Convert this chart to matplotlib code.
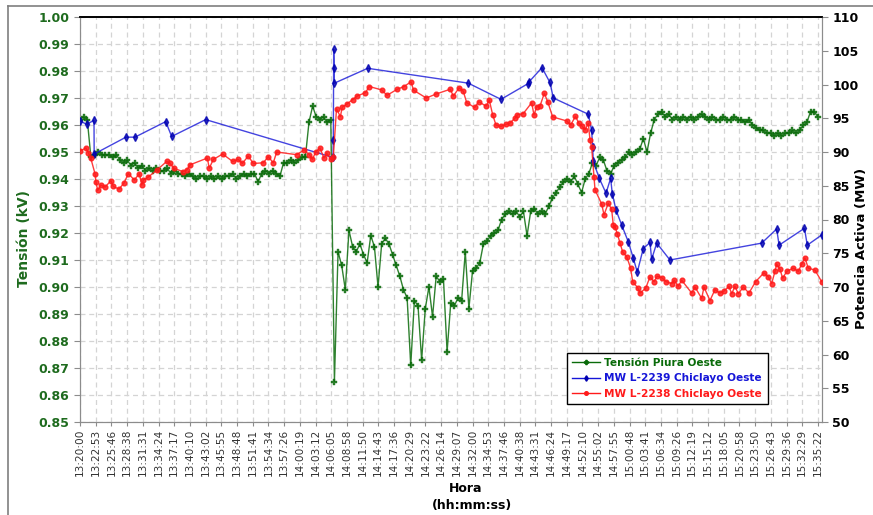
import matplotlib
matplotlib.use("Agg")
import matplotlib.pyplot as plt
from matplotlib.lines import Line2D

# --- data -------------------------------------------------------------------
START = "13:20:00"

X_TICK_LABELS = [
    "13:20:00", "13:22:53", "13:25:46", "13:28:38", "13:31:31", "13:34:24",
    "13:37:17", "13:40:10", "13:43:02", "13:45:55", "13:48:48", "13:51:41",
    "13:54:34", "13:57:26", "14:00:19", "14:03:12", "14:06:05", "14:08:58",
    "14:11:50", "14:14:43", "14:17:36", "14:20:29", "14:23:22", "14:26:14",
    "14:29:07", "14:32:00", "14:34:53", "14:37:46", "14:40:38", "14:43:31",
    "14:46:24", "14:49:17", "14:52:10", "14:55:02", "14:57:55", "15:00:48",
    "15:03:41", "15:06:34", "15:09:26", "15:12:19", "15:15:12", "15:18:05",
    "15:20:58", "15:23:50", "15:26:43", "15:29:36", "15:32:29", "15:35:22",
]

# Tension Piura Oeste (kV pu), one reading every 40 s from 13:20:00
GREEN_STEP_S = 40
tension_piura = [
    0.962, 0.963, 0.962, 0.948, 0.949, 0.950, 0.949, 0.949, 0.949, 0.948,
    0.949, 0.947, 0.946, 0.947, 0.945, 0.946, 0.944, 0.945, 0.943, 0.944,
    0.943, 0.944, 0.943, 0.943, 0.944, 0.942, 0.943, 0.942, 0.942, 0.941,
    0.942, 0.941, 0.940, 0.941, 0.941, 0.940, 0.941, 0.940, 0.941, 0.940,
    0.941, 0.941, 0.942, 0.940, 0.941, 0.942, 0.941, 0.942, 0.942, 0.939,
    0.942, 0.943, 0.942, 0.943, 0.942, 0.941, 0.946, 0.946, 0.947, 0.946,
    0.947, 0.948, 0.948, 0.961, 0.967, 0.963, 0.962, 0.963, 0.961, 0.962,
    0.865, 0.913, 0.908, 0.899, 0.921, 0.915, 0.913, 0.916, 0.912, 0.909,
    0.919, 0.915, 0.900, 0.916, 0.918, 0.916, 0.912, 0.908, 0.904, 0.899,
    0.896, 0.871, 0.895, 0.893, 0.873, 0.892, 0.900, 0.889, 0.904, 0.902,
    0.903, 0.876, 0.894, 0.893, 0.896, 0.895, 0.913, 0.892, 0.906, 0.907,
    0.909, 0.916, 0.917, 0.919, 0.920, 0.921, 0.925, 0.927, 0.928, 0.927,
    0.928, 0.926, 0.928, 0.919, 0.928, 0.929, 0.927, 0.928, 0.927, 0.930,
    0.933, 0.935, 0.937, 0.939, 0.940, 0.939, 0.941, 0.938, 0.935, 0.940,
    0.942, 0.946, 0.945, 0.948, 0.947, 0.943, 0.942, 0.945, 0.946, 0.947,
    0.948, 0.950, 0.949, 0.950, 0.951, 0.955, 0.950, 0.957, 0.962, 0.964,
    0.965, 0.963, 0.964, 0.962, 0.963, 0.962, 0.963, 0.962, 0.963, 0.962,
    0.963, 0.964, 0.963, 0.962, 0.963, 0.962, 0.962, 0.963, 0.962, 0.962,
    0.963, 0.962, 0.962, 0.961, 0.962, 0.960, 0.959, 0.958, 0.958, 0.957,
    0.957, 0.956, 0.957, 0.956, 0.957, 0.957, 0.958, 0.957, 0.958, 0.960,
    0.961, 0.965, 0.965, 0.963,
]

mw_l2239_time = [
    "13:20:00", "13:21:14", "13:22:34", "13:22:36", "13:28:26", "13:30:05",
    "13:35:43", "13:36:49", "13:43:03", "14:06:24", "14:06:28", "14:06:32",
    "14:06:36", "14:06:40", "14:12:46", "14:31:13", "14:37:13", "14:42:07",
    "14:42:16", "14:44:44", "14:46:12", "14:46:49", "14:53:14", "14:53:51",
    "14:54:02", "14:54:09", "14:55:15", "14:56:29", "14:57:20", "14:57:38",
    "14:58:19", "14:59:21", "15:00:34", "15:01:29", "15:02:13", "15:03:19",
    "15:04:33", "15:04:51", "15:05:47", "15:08:13", "15:25:02", "15:27:47",
    "15:28:14", "15:32:53", "15:33:24", "15:36:02",
]
mw_l2239 = [
    94.6, 94.1, 94.7, 89.7, 92.2, 92.2, 94.5, 92.3, 94.8, 89.2, 91.8, 105.2,
    102.5, 100.2, 102.4, 100.2, 97.8, 100.1, 100.3, 102.5, 100.3, 98.0, 95.6,
    93.2, 90.7, 88.6, 86.1, 83.9, 86.1, 83.8, 81.4, 79.2, 76.7, 74.3, 72.2,
    75.7, 76.6, 74.1, 76.5, 74.0, 76.5, 78.6, 76.2, 78.7, 76.2, 77.7,
]

mw_l2238_time = [
    "13:20:00", "13:21:06", "13:21:31", "13:21:58", "13:22:45", "13:22:56",
    "13:23:15", "13:23:48", "13:24:35", "13:25:41", "13:26:06", "13:27:09",
    "13:28:04", "13:28:52", "13:29:58", "13:30:53", "13:31:19", "13:31:37",
    "13:32:32", "13:34:04", "13:35:54", "13:36:30", "13:37:14", "13:38:50",
    "13:39:34", "13:40:11", "13:43:21", "13:43:43", "13:44:27", "13:46:10",
    "13:48:00", "13:49:02", "13:49:46", "13:50:52", "13:51:47", "13:53:37",
    "13:54:32", "13:55:27", "13:56:05", "13:59:45", "14:01:05", "14:02:04",
    "14:02:37", "14:03:14", "14:04:01", "14:04:45", "14:05:15", "14:05:59",
    "14:06:28", "14:07:03", "14:07:45", "14:08:07", "14:09:02", "14:09:59",
    "14:10:52", "14:12:22", "14:13:04", "14:15:20", "14:16:19", "14:18:12",
    "14:19:26", "14:20:43", "14:21:11", "14:23:31", "14:25:21", "14:27:55",
    "14:28:28", "14:29:33", "14:30:18", "14:30:56", "14:32:24", "14:33:09",
    "14:34:28", "14:35:04", "14:35:42", "14:36:18", "14:37:13", "14:38:08",
    "14:38:52", "14:39:47", "14:40:13", "14:41:19", "14:42:51", "14:43:16",
    "14:43:46", "14:44:22", "14:45:10", "14:45:47", "14:46:42", "14:49:16",
    "14:50:00", "14:50:53", "14:51:28", "14:52:01", "14:52:38", "14:53:14",
    "14:53:33", "14:53:51", "14:54:17", "14:54:28", "14:55:41", "14:56:07",
    "14:56:54", "14:57:31", "14:57:49", "14:58:08", "14:58:33", "14:59:03",
    "14:59:32", "15:00:16", "15:01:00", "15:01:22", "15:02:17", "15:02:43",
    "15:03:45", "15:04:33", "15:05:17", "15:05:53", "15:06:42", "15:07:29",
    "15:08:32", "15:09:00", "15:09:44", "15:10:22", "15:12:12", "15:12:48",
    "15:14:02", "15:14:27", "15:15:33", "15:16:28", "15:17:23", "15:18:07",
    "15:19:02", "15:19:32", "15:20:08", "15:20:45", "15:21:40", "15:22:42",
    "15:23:56", "15:25:27", "15:26:15", "15:26:52", "15:27:28", "15:27:47",
    "15:28:24", "15:28:53", "15:29:37", "15:30:50", "15:31:45", "15:32:22",
    "15:32:58", "15:33:35", "15:34:49", "15:36:02",
]
mw_l2238 = [
    90.15, 90.6, 89.9, 89.1, 86.8, 85.5, 84.3, 85.1, 84.8, 85.75, 84.9, 84.5,
    85.4, 86.8, 85.85, 86.8, 85.1, 85.85, 86.3, 87.3, 88.6, 88.3, 87.6, 87.1,
    87.3, 88.1, 89.1, 87.6, 88.9, 89.7, 88.6, 88.9, 88.3, 89.4, 88.3, 88.4,
    89.3, 88.4, 90.0, 89.6, 90.3, 89.6, 88.9, 90.0, 90.6, 89.1, 89.8, 88.9,
    89.3, 96.4, 95.25, 96.65, 97.15, 97.75, 98.3, 98.8, 99.7, 99.2, 98.4, 99.3,
    99.7, 100.4, 99.15, 98.0, 98.6, 99.3, 98.3, 99.5, 99.0, 97.3, 96.6, 97.45,
    96.8, 97.7, 95.5, 94.0, 93.8, 94.1, 94.3, 95.0, 95.5, 95.7, 97.3, 95.5,
    96.7, 96.8, 98.7, 97.45, 95.2, 94.6, 94.0, 95.3, 94.3, 93.9, 93.3, 94.25,
    91.8, 90.7, 86.3, 84.4, 82.3, 80.7, 82.4, 81.5, 79.2, 78.9, 77.9, 76.5,
    75.2, 74.5, 72.8, 70.8, 69.9, 69.1, 69.8, 71.5, 70.8, 71.6, 71.4, 70.8,
    70.5, 71.0, 70.1, 71.0, 69.1, 70.0, 68.3, 70.0, 68.0, 69.6, 69.1, 69.4,
    70.1, 69.0, 70.1, 69.0, 70.0, 69.1, 70.8, 72.1, 71.5, 70.5, 72.3, 73.4,
    72.6, 71.3, 72.3, 72.8, 72.3, 73.4, 74.3, 72.8, 72.5, 70.8,
]

GREEN = "#0a6b0a"
BLUE = "#1515d8"
RED = "#ff1a1a"


def secs(hms: str) -> int:
    h, m, s = (int(p) for p in hms.split(":"))
    return h * 3600 + m * 60 + s


t0 = secs(START)
x_ticks = [secs(t) - t0 for t in X_TICK_LABELS]
x_green = [i * GREEN_STEP_S for i in range(len(tension_piura))]
x_blue = [secs(t) - t0 for t in mw_l2239_time]
x_red = [secs(t) - t0 for t in mw_l2238_time]

# --- figure -----------------------------------------------------------------
W, H = 873, 515
fig = plt.figure(figsize=(W / 100, H / 100), dpi=100)
fig.patch.set_facecolor("white")

L, R, T, B = 80, 822, 17, 422
ax = fig.add_axes([L / W, 1 - B / H, (R - L) / W, (B - T) / H])
ax2 = ax.twinx()

ax.plot(x_green, tension_piura, color=GREEN, lw=1.0, alpha=0.85, marker="P",
        ms=5.0, mec=GREEN, mfc=GREEN, mew=0.3, zorder=3)
ax2.plot(x_blue, mw_l2239, color=BLUE, lw=1.0, alpha=0.8, marker="d", ms=3.6,
         mec="#0000b0", mfc="#0000b0", zorder=3)
ax2.plot(x_red, mw_l2238, color=RED, lw=1.0, alpha=0.85, marker="o", ms=3.4,
         mec=RED, mfc=RED, zorder=4)

ax.set_xlim(0, x_ticks[-1] * (R - L) / 738)
ax.set_ylim(0.85, 1.00)
ax2.set_ylim(50, 110)
ax.set_yticks([0.85 + 0.01 * k for k in range(16)])
ax.set_yticklabels([f"{0.85 + 0.01 * k:.2f}" for k in range(16)])
ax2.set_yticks(range(50, 111, 5))
ax.set_xticks(x_ticks)
ax.set_xticklabels(X_TICK_LABELS, rotation=90, fontsize=7.6, color="#333333")

ax.grid(True, color="#d4d4d4", linestyle=(0, (4, 3)), lw=0.9)
ax.set_axisbelow(True)

for a in (ax, ax2):
    for side in ("left", "right", "bottom"):
        a.spines[side].set_color("#8c8c8c")
    a.spines["top"].set_color("black")
    a.spines["top"].set_linewidth(1.2)

ax.tick_params(axis="y", colors="#8c8c8c", labelcolor="#1e6b1e", labelsize=9,
               length=4, direction="out")
ax2.tick_params(axis="y", colors="#8c8c8c", labelcolor="black", labelsize=9,
                length=4, direction="out")
ax.tick_params(axis="x", colors="#8c8c8c", labelcolor="#333333", length=3,
               direction="out", pad=2)
for lab in ax.get_yticklabels() + ax2.get_yticklabels():
    lab.set_fontweight("bold")

fig.text(24 / W, 1 - 239 / H, "Tensión (kV)", rotation=90, ha="center",
         va="center", fontsize=10, fontweight="bold", color="#1e6b1e")
fig.text(862 / W, 1 - 248 / H, "Potencia Activa (MW)", rotation=90,
         ha="center", va="center", fontsize=9.5, fontweight="bold",
         color="black")
fig.text(466 / W, 1 - 488 / H, "Hora", ha="center", va="center", fontsize=9,
         fontweight="bold", color="black")
fig.text(472 / W, 1 - 506 / H, "(hh:mm:ss)", ha="center", va="center",
         fontsize=9, fontweight="bold", color="black")

# chart-area border (top and left edges visible)
fig.add_artist(Line2D([8 / W, 1.0], [1 - 6 / H, 1 - 6 / H],
                      transform=fig.transFigure, color="#7f7f7f", lw=1.2))
fig.add_artist(Line2D([8 / W, 8 / W], [0.0, 1 - 6 / H],
                      transform=fig.transFigure, color="#7f7f7f", lw=1.2))

handles = [
    Line2D([], [], color=GREEN, lw=1.0, marker="P", ms=3.0, mec=GREEN),
    Line2D([], [], color=BLUE, lw=1.0, marker="d", ms=2.8, mec="#0000b0",
           mfc="#0000b0"),
    Line2D([], [], color=RED, lw=1.0, marker="o", ms=2.6, mec=RED),
]
labels = ["Tensión Piura Oeste", "MW L-2239 Chiclayo Oeste",
          "MW L-2238 Chiclayo Oeste"]
leg = ax2.legend(handles, labels, loc="lower left",
                 bbox_to_anchor=((567 - L) / (R - L), (B - 404) / (B - T)),
                 fontsize=7.6, frameon=True, fancybox=False, framealpha=1,
                 edgecolor="black", handlelength=2.6, handletextpad=0.45,
                 borderpad=0.5, labelspacing=0.5, borderaxespad=0)
leg.get_frame().set_linewidth(1.0)
for txt, c in zip(leg.get_texts(), (GREEN, BLUE, RED)):
    txt.set_color(c)
    txt.set_fontweight("bold")

fig.savefig("out.png", dpi=100)
